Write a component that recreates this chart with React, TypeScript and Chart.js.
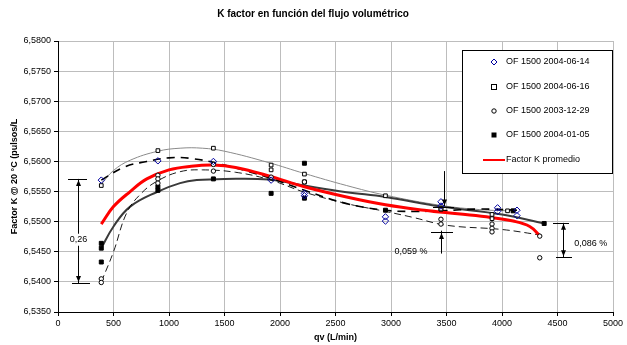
import React, { useEffect, useRef } from 'react';
import { Chart, registerables } from 'chart.js';
Chart.register(...registerables);

const FONT = "'Liberation Sans', Arial, sans-serif";

const title = 'K factor en función del flujo volumétrico';
const xTitle = 'qv (L/min)';
const yTitle = 'Factor K @ 20 °C (pulsos/L';

const xTicks = [0, 500, 1000, 1500, 2000, 2500, 3000, 3500, 4000, 4500, 5000];
const yTicks = [6.535, 6.54, 6.545, 6.55, 6.555, 6.56, 6.565, 6.57, 6.575, 6.58];

const legendLabels = ['OF 1500 2004-06-14', 'OF 1500 2004-06-16', 'OF 1500 2003-12-29', 'OF 1500 2004-01-05', 'Factor K promedio'];

// measured points
const s1X = [390, 900, 1400, 1920, 2220, 2220, 2950, 2950, 3450, 3450, 3960, 3960, 4135, 4135];
const s1Y = [6.5569, 6.5601, 6.56, 6.5569, 6.5547, 6.5543, 6.5508, 6.5501, 6.5533, 6.5526, 6.5523, 6.5517, 6.5519, 6.551];

const s2X = [390, 900, 1400, 1920, 1920, 2220, 2950, 3450, 3910, 3910, 4050];
const s2Y = [6.556, 6.5618, 6.5622, 6.5594, 6.5586, 6.5579, 6.5543, 6.5521, 6.5512, 6.5505, 6.5518];

const s3X = [390, 390, 900, 900, 900, 1400, 1400, 1920, 2220, 3450, 3450, 3910, 3910, 3910, 4340, 4340];
const s3Y = [6.5405, 6.5399, 6.5577, 6.5571, 6.5564, 6.5595, 6.5584, 6.5574, 6.5566, 6.5504, 6.5496, 6.5496, 6.5489, 6.5483, 6.5476, 6.544];

const s4X = [390, 390, 390, 900, 900, 1400, 1920, 2220, 2220, 2220, 2950, 3450, 4100, 4380];
const s4Y = [6.5464, 6.5456, 6.5433, 6.5558, 6.5552, 6.5571, 6.5547, 6.5597, 6.5566, 6.5539, 6.5519, 6.5521, 6.5518, 6.5497];

// trend curves
const t1X = [390, 600, 800, 1000, 1200, 1500, 1900, 2220, 2600, 2950, 3200, 3450, 3800, 4135];
const t1Y = [6.5569, 6.5591, 6.56, 6.5606, 6.5605, 6.5594, 6.5573, 6.5552, 6.553, 6.5519, 6.5517, 6.5518, 6.5521, 6.5519];

const t2X = [390, 500, 650, 900, 1100, 1300, 1500, 1900, 2220, 2600, 2950, 3450, 3800, 4050];
const t2Y = [6.5562, 6.5585, 6.5602, 6.5617, 6.5622, 6.5622, 6.5617, 6.5598, 6.558, 6.556, 6.5544, 6.5527, 6.552, 6.5518];

const t3X = [390, 500, 620, 750, 900, 1100, 1300, 1600, 1900, 2220, 2600, 2950, 3200, 3500, 4000, 4340];
const t3Y = [6.54, 6.545, 6.5515, 6.5547, 6.5568, 6.5583, 6.5586, 6.5582, 6.557, 6.5549, 6.553, 6.5517, 6.5507, 6.5494, 6.5487, 6.5478];

const t4X = [390, 500, 650, 900, 1100, 1250, 1500, 1900, 2220, 2600, 2950, 3450, 4000, 4380];
const t4Y = [6.5456, 6.5492, 6.5525, 6.555, 6.5564, 6.5569, 6.5571, 6.557, 6.556, 6.5549, 6.5541, 6.5525, 6.5512, 6.5497];

const avgX = [390, 500, 650, 800, 1000, 1200, 1400, 1600, 1900, 2220, 2600, 2950, 3300, 3600, 3900, 4100, 4250, 4340];
const avgY = [6.5496, 6.5525, 6.555, 6.5571, 6.5586, 6.5592, 6.5594, 6.559, 6.5576, 6.5558, 6.5541, 6.5528, 6.5519, 6.5513, 6.5507, 6.5501, 6.5492, 6.5477];

const pts = (xs: number[], ys: number[]) => xs.map((x, i) => ({ x, y: ys[i] }));

const fmtY = (v: number) => v.toFixed(4).replace('.', ',');

function arrowHead(ctx: CanvasRenderingContext2D, x: number, y: number, dir: number) {
  ctx.beginPath();
  ctx.moveTo(x, y);
  ctx.lineTo(x - 2.5, y - dir * 6);
  ctx.lineTo(x + 2.5, y - dir * 6);
  ctx.closePath();
  ctx.fill();
}

const decor = {
  id: 'decor',
  afterDraw(chart: any) {
    const ctx: CanvasRenderingContext2D = chart.ctx;
    const xs = chart.scales.x;
    const ys = chart.scales.y;
    const ca = chart.chartArea;
    const X = (v: number) => xs.getPixelForValue(v);
    const Y = (v: number) => ys.getPixelForValue(v);
    ctx.save();
    ctx.fillStyle = '#000';
    ctx.strokeStyle = '#000';
    ctx.lineWidth = 1;

    // titles
    ctx.font = `bold 10px ${FONT}`;
    ctx.textAlign = 'center';
    ctx.textBaseline = 'middle';
    ctx.fillText(title, 313, 14);
    ctx.font = `bold 9px ${FONT}`;
    ctx.fillText(xTitle, (ca.left + ca.right) / 2, 338);
    ctx.save();
    ctx.translate(15, (ca.top + ca.bottom) / 2);
    ctx.rotate(-Math.PI / 2);
    ctx.fillText(yTitle, 0, 0);
    ctx.restore();

    const hline = (x1: number, x2: number, y: number) => {
      ctx.beginPath();
      ctx.moveTo(Math.round(X(x1)), Math.round(Y(y)) + 0.5);
      ctx.lineTo(Math.round(X(x2)), Math.round(Y(y)) + 0.5);
      ctx.stroke();
    };
    const vline = (x: number, y1: number, y2: number) => {
      ctx.beginPath();
      ctx.moveTo(Math.round(X(x)) + 0.5, Y(y1));
      ctx.lineTo(Math.round(X(x)) + 0.5, Y(y2));
      ctx.stroke();
    };

    ctx.font = `9px ${FONT}`;
    // annotation 0,26
    hline(90, 262, 6.5571);
    hline(125, 290, 6.5398);
    vline(180, 6.5571, 6.5398);
    arrowHead(ctx, Math.round(X(180)) + 0.5, Y(6.5571) + 1, -1);
    arrowHead(ctx, Math.round(X(180)) + 0.5, Y(6.5398) - 1, 1);
    ctx.fillStyle = '#fff';
    ctx.fillRect(X(185) - 11, Y(6.547) - 6, 22, 12);
    ctx.fillStyle = '#000';
    ctx.fillText('0,26', X(185), Y(6.547));

    // annotation 0,059 %
    hline(3380, 3570, 6.5524);
    hline(3360, 3560, 6.5483);
    vline(3480, 6.5584, 6.5526);
    arrowHead(ctx, Math.round(X(3480)) + 0.5, Y(6.5525) - 1, 1);
    vline(3450, 6.5447, 6.5485);
    arrowHead(ctx, Math.round(X(3450)) + 0.5, Y(6.5483) + 1, -1);
    ctx.fillText('0,059 %', X(3180), Y(6.5451));

    // annotation 0,086 %
    hline(4460, 4600, 6.5498);
    hline(4490, 4630, 6.5441);
    vline(4550, 6.5498, 6.5441);
    arrowHead(ctx, Math.round(X(4550)) + 0.5, Y(6.5498) + 1, -1);
    arrowHead(ctx, Math.round(X(4550)) + 0.5, Y(6.5441) - 1, 1);
    ctx.fillText('0,086 %', X(4800), Y(6.5464));

    // legend
    const lx = ca.right - 151;
    const ly = ca.top + 9;
    const lw = 150;
    const lh = 123;
    ctx.fillStyle = '#fff';
    ctx.fillRect(lx, ly, lw, lh);
    ctx.strokeStyle = '#000';
    ctx.strokeRect(lx + 0.5, ly + 0.5, lw, lh);
    ctx.textAlign = 'left';
    const mx = lx + 32;
    const tx = lx + 44;
    const rows = [12, 37, 61, 85, 110];
    legendLabels.forEach((lab, i) => {
      const cy = ly + rows[i];
      ctx.lineWidth = 1;
      if (i === 0) {
        ctx.strokeStyle = '#0000a0';
        ctx.beginPath();
        ctx.moveTo(mx, cy - 3);
        ctx.lineTo(mx + 3, cy);
        ctx.lineTo(mx, cy + 3);
        ctx.lineTo(mx - 3, cy);
        ctx.closePath();
        ctx.stroke();
      } else if (i === 1) {
        ctx.strokeStyle = '#000';
        ctx.strokeRect(mx - 2.5, cy - 2.5, 5, 5);
      } else if (i === 2) {
        ctx.strokeStyle = '#000';
        ctx.beginPath();
        ctx.arc(mx, cy, 2.2, 0, Math.PI * 2);
        ctx.stroke();
      } else if (i === 3) {
        ctx.fillStyle = '#000';
        ctx.fillRect(mx - 2.5, cy - 2.5, 5, 5);
      } else {
        ctx.strokeStyle = '#ff0000';
        ctx.lineWidth = 2;
        ctx.beginPath();
        ctx.moveTo(lx + 21, cy);
        ctx.lineTo(lx + 43, cy);
        ctx.stroke();
      }
      ctx.fillStyle = '#000';
      ctx.fillText(lab, tx, cy);
    });
    ctx.restore();
  },
};

export default function App() {
  const ref = useRef<HTMLCanvasElement>(null);
  useEffect(() => {
    if (!ref.current) return;
    const chart = new Chart(ref.current, {
      type: 'scatter',
      data: {
        datasets: [
          { label: legendLabels[0], data: pts(s1X, s1Y), pointStyle: 'rectRot', pointRadius: 3.2, borderColor: '#0000a0', backgroundColor: 'rgba(255,255,255,0)', borderWidth: 1, order: 0 },
          { label: legendLabels[1], data: pts(s2X, s2Y), pointStyle: 'rect', pointRadius: 2.6, borderColor: '#000', backgroundColor: '#fff', borderWidth: 1, order: 1 },
          { label: legendLabels[2], data: pts(s3X, s3Y), pointStyle: 'circle', pointRadius: 2.2, borderColor: '#000', backgroundColor: '#fff', borderWidth: 1, order: 2 },
          { label: legendLabels[3], data: pts(s4X, s4Y), pointStyle: 'rect', pointRadius: 2.8, borderColor: '#000', backgroundColor: '#000', borderWidth: 1, order: 3 },
          { label: legendLabels[4], data: pts(avgX, avgY), showLine: true, pointRadius: 0, borderColor: '#ff0000', borderWidth: 3, tension: 0.4, order: 4 },
          { label: 't1', data: pts(t1X, t1Y), showLine: true, pointRadius: 0, borderColor: '#000', borderWidth: 1.6, borderDash: [8, 6], tension: 0.4, order: 5 },
          { label: 't3', data: pts(t3X, t3Y), showLine: true, pointRadius: 0, borderColor: '#000', borderWidth: 0.9, borderDash: [7, 4], tension: 0.4, order: 6 },
          { label: 't4', data: pts(t4X, t4Y), showLine: true, pointRadius: 0, borderColor: '#3a3a3a', borderWidth: 2, tension: 0.4, order: 7 },
          { label: 't2', data: pts(t2X, t2Y), showLine: true, pointRadius: 0, borderColor: '#8a8a8a', borderWidth: 1, tension: 0.4, order: 8 },
        ],
      },
      options: {
        animation: false,
        responsive: false,
        devicePixelRatio: 1,
        layout: { padding: { top: 41, right: 14, left: 0, bottom: 0 } },
        plugins: { legend: { display: false }, tooltip: { enabled: false }, title: { display: false } },
        scales: {
          x: {
            type: 'linear',
            min: 0,
            max: 5000,
            afterBuildTicks: (s: any) => { s.ticks = xTicks.map((v) => ({ value: v })); },
            afterFit: (s: any) => { s.height = 33; },
            grid: { color: '#bdbdbd', lineWidth: 1, drawTicks: true, tickLength: 4, tickColor: '#000' },
            border: { color: '#000', width: 1 },
            ticks: { color: '#000', font: { family: FONT, size: 9 }, padding: 2, maxRotation: 0, autoSkip: false, callback: (v: any) => String(v) },
          },
          y: {
            type: 'linear',
            min: 6.535,
            max: 6.58,
            afterBuildTicks: (s: any) => { s.ticks = yTicks.map((v) => ({ value: v })); },
            afterFit: (s: any) => { s.width = 58; },
            grid: { color: '#bdbdbd', lineWidth: 1, drawTicks: true, tickLength: 4, tickColor: '#000' },
            border: { color: '#000', width: 1 },
            ticks: { color: '#000', font: { family: FONT, size: 9 }, padding: 3, autoSkip: false, callback: (v: any) => fmtY(Number(v)) },
          },
        },
      },
      plugins: [decor],
    } as any);
    return () => chart.destroy();
  }, []);
  return (
    <div style={{ position: 'absolute', left: 0, top: 0, width: 627, height: 345, background: '#fff' }}>
      <canvas ref={ref} width={627} height={345} />
    </div>
  );
}
